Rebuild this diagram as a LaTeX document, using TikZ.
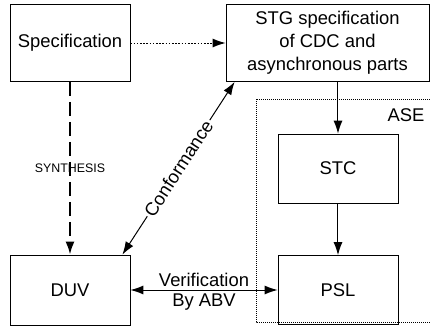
\documentclass[tikz,border=0pt]{standalone}
\usepackage{fontspec}
\setmainfont{Liberation Sans}
\usetikzlibrary{arrows.meta}
\tikzset{
    box/.style={draw, thin, align=center, minimum width=60pt, minimum height=38.5pt, inner sep=0pt},
    tip/.style={-{Latex[length=6.5pt,width=4.5pt]}},
    both/.style={{Latex[length=6.5pt,width=4.5pt]}-{Latex[length=6.5pt,width=4.5pt]}},
    fine dots/.style={dash pattern=on 0.5pt off 0.5pt},
}
\begin{document}
\begin{tikzpicture}[x=0.5pt,y=-0.5pt,font=\fontsize{9.2}{11.5}\selectfont,line width=0.5pt]
    \useasboundingbox (0,0) rectangle (430,333);
    % boxes
    \node[box] (spec) at (70,43) {Specification};
    \node[box, minimum width=101.5pt] (stg) at (327.5,43) {STG specification\\of CDC and\\asynchronous parts};
    \node[box, minimum height=35pt] (duv) at (70,290) {DUV};
    \node[box, minimum height=34.5pt] (stc) at (338,168.5) {STC};
    \node[box, minimum height=34.5pt] (psl) at (338,290) {PSL};
    % ASE frame
    \draw[fine dots, line width=0.4pt] (440,99) -- (256,99) -- (256,322) -- (440,322);
    \node (ase) at (406,115) {ASE};
    % connectors
    \draw[tip, dash pattern=on 0.8pt off 0.8pt] (spec) -- (stg);
    \draw[tip, dash pattern=on 7pt off 3pt, line width=1pt] (spec) -- (duv)
        node[midway, font=\fontsize{6.2}{7}\selectfont] {SYNTHESIS};
    \draw[tip] (stg.south -| stc) -- (stc);
    \draw[tip] (stc) -- (psl);
    \draw[both] ([xshift=-4pt]duv.north east) -- ([xshift=4.5pt]stg.south west)
        node[midway, sloped, fill=white, inner sep=1pt] {Conformance};
    \draw[both] (duv) -- (psl)
        node[midway, above, inner sep=1.5pt] {Verification}
        node[midway, below, inner sep=1.5pt] {By ABV};
\end{tikzpicture}
\end{document}
